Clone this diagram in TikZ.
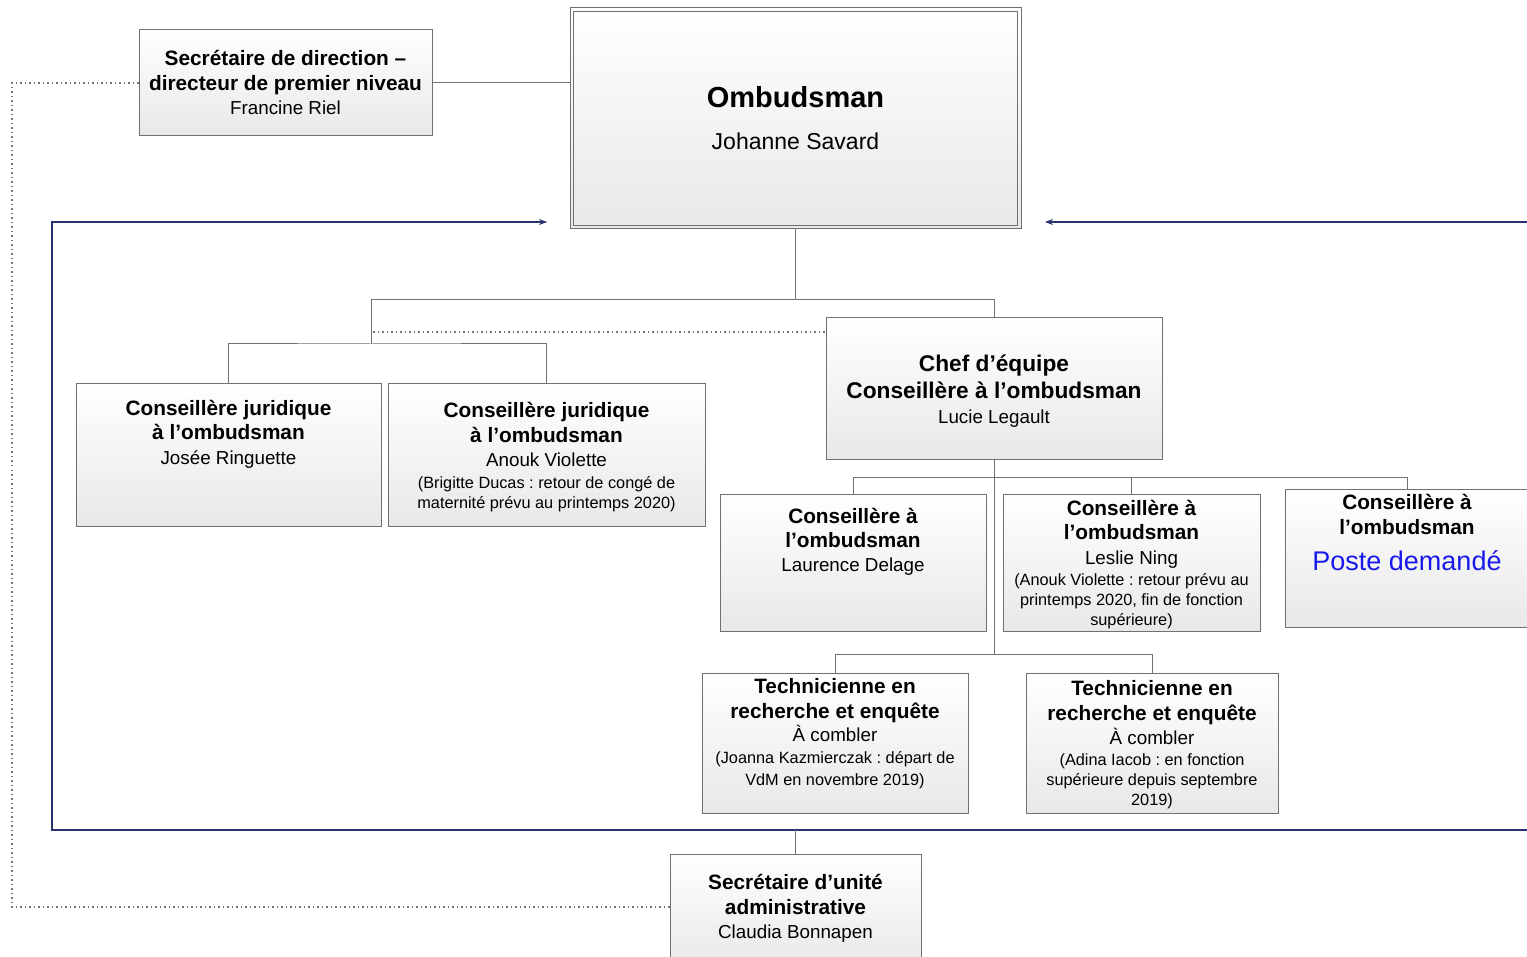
\documentclass[tikz,border=0pt]{standalone}
\usepackage{fontspec}
\setmainfont{Liberation Sans}
\usetikzlibrary{arrows.meta}
\frenchspacing
\definecolor{edge}{RGB}{112,112,112}
\definecolor{framec}{RGB}{40,50,110}
\definecolor{postblue}{RGB}{25,25,235}
\newcommand\xB{\fontsize{20.8}{25}\bfseries}
\newcommand\xR{\fontsize{18.8}{25}\selectfont}
\newcommand\xS{\fontsize{16.3}{20}\selectfont}
\begin{document}
\begin{tikzpicture}[x=1pt,y=-1pt,
  box/.style={draw=edge, line width=1pt, top color=white, bottom color=black!9, inner sep=0pt},
  txt/.style={anchor=north, inner sep=0pt, align=center, font=\fontsize{20.8}{25}\selectfont},
  conn/.style={draw=edge, line width=1pt},
  dotl/.style={draw=black!55, line width=1.5pt, dash pattern=on 1.5pt off 3pt},
  frame/.style={draw=framec, line width=1.2pt}]
\useasboundingbox (0,0) rectangle (1527,957);

% frame (shadow + line)
\coordinate (fL) at (547,222);
\coordinate (fR) at (1045,222);
\coordinate (fTL) at (52,222);
\coordinate (fBL) at (52,830);
\coordinate (fBR) at (1545,830);
\coordinate (fTR) at (1545,222);
\draw[black!15, line width=2pt, shift={(2,2)}] (fTR) -- (fBR) -- (fBL) -- (fTL) -- (fL);
\draw[frame, {Stealth[length=8pt,width=6pt]}-{Stealth[length=8pt,width=6pt]}] (fR) -- (fTR) -- (fBR) -- (fBL) -- (fTL) -- (fL);

% boxes
\node[box, minimum width=293pt, minimum height=106pt] (secdir) at (285.5,83) {};
\node[box, minimum width=451pt, minimum height=221pt] (omb) at (795.5,118.5) {};
\draw[draw=edge, line width=1pt] ([shift={(4pt,-4pt)}]omb.north west) rectangle ([shift={(-4pt,4pt)}]omb.south east);
\node[box, minimum width=305pt, minimum height=142pt] (jur1) at (228.5,455) {};
\node[box, minimum width=317pt, minimum height=142pt] (jur2) at (546.5,455) {};
\node[box, minimum width=336pt, minimum height=142pt] (chef) at (994,389) {};
\node[box, minimum width=266pt, minimum height=136pt] (laur) at (853,563) {};
\node[box, minimum width=257pt, minimum height=136pt] (leslie) at (1131.5,563) {};
\node[box, minimum width=244pt, minimum height=137pt] (poste) at (1407,558.5) {};
\node[box, minimum width=266pt, minimum height=140pt] (tech1) at (835,743) {};
\node[box, minimum width=252pt, minimum height=140pt] (tech2) at (1152,743) {};
\node[box, minimum width=251pt, minimum height=116pt] (secu) at (795.5,912) {};

% texts
\node[txt] (tsecdir) at ([yshift=-21pt]secdir.north) {\xB Secrétaire de direction –\\\xB directeur de premier niveau\\[-1pt]\xR Francine Riel};
\node[txt] (tomb) at ([yshift=-79pt]omb.north) {\fontsize{29}{35}\bfseries Ombudsman\\[16.8pt]\fontsize{23}{28}\selectfont Johanne Savard};
\node[txt] (tjur1) at ([yshift=-17pt]jur1.north) {\xB Conseillère juridique\\[-1pt]\xB à l’ombudsman\\\xR Josée Ringuette};
\node[txt] (tjur2) at ([yshift=-19pt]jur2.north) {\xB Conseillère juridique\\\xB à l’ombudsman\\[-1pt]\xR Anouk Violette\\[-3pt]\xS (Brigitte Ducas : retour de congé de\\[-5pt]\xS maternité prévu au printemps 2020)};
\node[txt] (tchef) at ([yshift=-37pt]chef.north) {\fontsize{22.7}{27}\bfseries Chef d’équipe\\[2pt]\fontsize{22.7}{27}\bfseries Conseillère à l’ombudsman\\\xR Lucie Legault};
\node[txt] (tlaur) at ([yshift=-14pt]laur.north) {\xB Conseillère à\\[-1pt]\xB l’ombudsman\\[-1pt]\xR Laurence Delage};
\node[txt] (tleslie) at ([yshift=-6pt]leslie.north) {\xB Conseillère à\\[-1pt]\xB l’ombudsman\\\xR Leslie Ning\\[-4pt]\xS (Anouk Violette : retour prévu au\\[-5pt]\xS printemps 2020, fin de fonction\\[-5pt]\xS supérieure)};
\node[txt] (tposte) at ([yshift=-5pt]poste.north) {\xB Conseillère à\\\xB l’ombudsman\\[10.3pt]\color{postblue}\fontsize{27}{32}\selectfont Poste demandé};
\node[txt] (ttech1) at ([yshift=-6pt]tech1.north) {\xB Technicienne en\\\xB recherche et enquête\\[-2pt]\xR À combler\\[-3pt]\xS (Joanna Kazmierczak : départ de\\[-3pt]\xS VdM en novembre 2019)};
\node[txt] (ttech2) at ([yshift=-8pt]tech2.north) {\xB Technicienne en\\\xB recherche et enquête\\[-1pt]\xR À combler\\[-4pt]\xS (Adina Iacob : en fonction\\[-5pt]\xS supérieure depuis septembre\\[-5pt]\xS 2019)};
\node[txt] (tsecu) at ([yshift=-21pt]secu.north) {\xB Secrétaire d’unité\\\xB administrative\\[-1pt]\xR Claudia Bonnapen};

% connectors
\draw[conn] (secdir.east) -- (secdir.east -| omb.west);
\coordinate (b1L) at (371,300);
\coordinate (dA) at (373,332);
\coordinate (jb) at (371,344);
\draw[conn] (omb.south) -- (omb.south |- b1L);
\draw[conn] (jb) -- (b1L) -| (chef.north);
\draw[dotl] (dA) -- (dA -| chef.west);
\draw[conn] (jur1.north) |- (jb) -| (jur2.north);
\coordinate (cb) at (853,478);
\coordinate (tb) at (835,654);
\draw[conn] (chef.south) -- (chef.south |- tb);
\draw[conn] (laur.north) |- (cb) -| (poste.north);
\draw[conn] (leslie.north) -- (leslie.north |- cb);
\draw[conn] (tech1.north) |- (tb) -| (tech2.north);
\draw[conn] (secu.north) -- (secu.north |- fBL);
% dotted link
\coordinate (d1) at (12,83);
\coordinate (d2) at (12,907);
\draw[dotl] (secdir.west) -- (d1) -- (d2) -- (d2 -| secu.west);
\end{tikzpicture}
\end{document}
